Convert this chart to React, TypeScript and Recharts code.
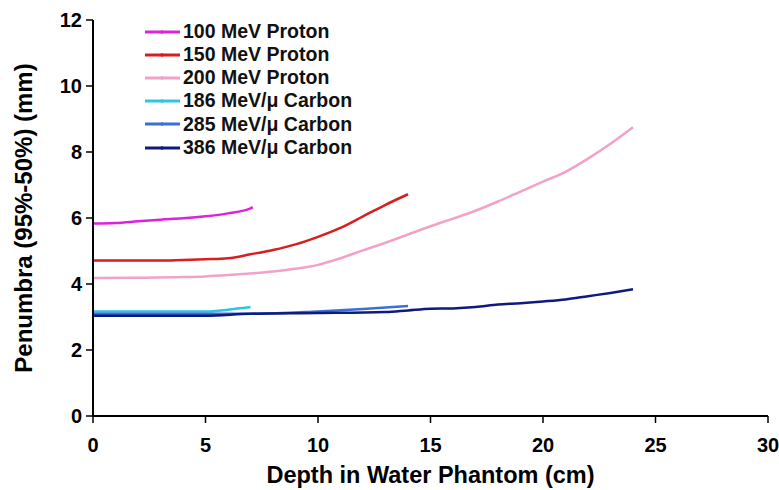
import { LineChart, Line, XAxis, YAxis } from 'recharts'

// depth (cm) and penumbra (mm)
const p100X = [0, 1, 2, 3, 4, 5, 6, 7, 7.1]
const p100Y = [5.83, 5.85, 5.9, 5.95, 5.99, 6.05, 6.14, 6.29, 6.33]

const p150X = [0, 1, 2, 3, 4, 5, 6, 7, 8, 9, 10, 11, 12, 13, 14]
const p150Y = [4.71, 4.71, 4.71, 4.71, 4.73, 4.75, 4.78, 4.9, 5.03, 5.2, 5.43, 5.7, 6.05, 6.4, 6.72]

const p200X = [0, 2, 4, 5, 6, 7, 8, 9, 10, 11, 12, 13, 14, 15, 16, 17, 18, 19, 20, 21, 22, 23, 24]
const p200Y = [4.18, 4.19, 4.21, 4.23, 4.27, 4.32, 4.38, 4.46, 4.58, 4.78, 5.02, 5.25, 5.5, 5.75, 5.98, 6.22, 6.5, 6.8, 7.1, 7.4, 7.8, 8.25, 8.75]

const c186X = [0, 2, 4, 5, 6, 7]
const c186Y = [3.17, 3.17, 3.17, 3.17, 3.22, 3.3]

const c285X = [0, 2, 4, 5, 7, 10, 12, 14]
const c285Y = [3.1, 3.1, 3.1, 3.1, 3.1, 3.17, 3.24, 3.33]

const c386X = [0, 2, 4, 5, 7, 10, 13, 14, 15, 16, 17, 18, 19, 20, 21, 22, 23, 24]
const c386Y = [3.04, 3.04, 3.04, 3.04, 3.1, 3.12, 3.15, 3.2, 3.25, 3.26, 3.3, 3.38, 3.42, 3.47, 3.53, 3.63, 3.73, 3.84]

const xTicks = [0, 5, 10, 15, 20, 25, 30]
const yTicks = [0, 2, 4, 6, 8, 10, 12]

const FONT = '"Liberation Sans", Arial, sans-serif'

function toPoints(xs: number[], ys: number[]) {
  return xs.map((x, i) => ({ x, y: ys[i] }))
}

const SERIES = [
  { name: '100 MeV Proton', color: '#dd22dd', data: toPoints(p100X, p100Y) },
  { name: '150 MeV Proton', color: '#d81e1e', data: toPoints(p150X, p150Y) },
  { name: '200 MeV Proton', color: '#f2a2c8', data: toPoints(p200X, p200Y) },
  { name: '186 MeV/\u03bc Carbon', color: '#2ec4e6', data: toPoints(c186X, c186Y) },
  { name: '285 MeV/\u03bc Carbon', color: '#3b6fd6', data: toPoints(c285X, c285Y) },
  { name: '386 MeV/\u03bc Carbon', color: '#0f1a7e', data: toPoints(c386X, c386Y) },
]

// legend drawn as an overlay so it doesn't eat into the plot area
function LegendBox() {
  return (
    <div
      style={{
        position: 'absolute',
        left: 144,
        top: 20,
        fontFamily: FONT,
        fontWeight: 'bold',
        fontSize: 19.5,
        color: '#111',
        lineHeight: 1,
      }}
    >
      {SERIES.map((s) => (
        <div key={s.name} style={{ display: 'flex', alignItems: 'center', height: 23.2 }}>
          <svg width={37} height={10} style={{ marginRight: 2 }}>
            <line x1={1} y1={5} x2={36} y2={5} stroke={s.color} strokeWidth={3} />
            <circle cx={18} cy={5} r={1.8} fill={s.color} />
          </svg>
          <span>{s.name}</span>
        </div>
      ))}
    </div>
  )
}

export default function App() {
  return (
    <div style={{ position: 'absolute', left: 0, top: 0, width: 779, height: 490, background: '#fff' }}>
      <LineChart width={779} height={490} margin={{ top: 20, right: 11, bottom: 0, left: 0 }}>
        <XAxis
          type="number"
          dataKey="x"
          domain={[0, 30]}
          ticks={xTicks}
          allowDuplicatedCategory={false}
          height={74}
          tickSize={7}
          tickMargin={15}
          axisLine={{ stroke: '#000', strokeWidth: 2 }}
          tickLine={{ stroke: '#000', strokeWidth: 1.5 }}
          tick={{ fontFamily: FONT, fontWeight: 'bold', fontSize: 20, fill: '#000' }}
          label={{
            value: 'Depth in Water Phantom (cm)',
            position: 'insideBottom',
            offset: 7,
            style: { fontFamily: FONT, fontWeight: 'bold', fontSize: 23.5, fill: '#000' },
          }}
        />
        <YAxis
          type="number"
          dataKey="y"
          domain={[0, 12]}
          ticks={yTicks}
          width={93}
          tickSize={7}
          tickMargin={4}
          axisLine={{ stroke: '#000', strokeWidth: 2 }}
          tickLine={{ stroke: '#000', strokeWidth: 1.5 }}
          tick={{ fontFamily: FONT, fontWeight: 'bold', fontSize: 20, fill: '#000' }}
          label={{
            value: 'Penumbra (95%-50%) (mm)',
            angle: -90,
            position: 'insideLeft',
            offset: 23,
            style: { textAnchor: 'middle', fontFamily: FONT, fontWeight: 'bold', fontSize: 24, fill: '#000' },
          }}
        />
        {SERIES.map((s) => (
          <Line
            key={s.name}
            data={s.data}
            dataKey="y"
            name={s.name}
            type="monotone"
            stroke={s.color}
            strokeWidth={2.5}
            dot={false}
            isAnimationActive={false}
          />
        ))}
      </LineChart>
      <LegendBox />
    </div>
  )
}
